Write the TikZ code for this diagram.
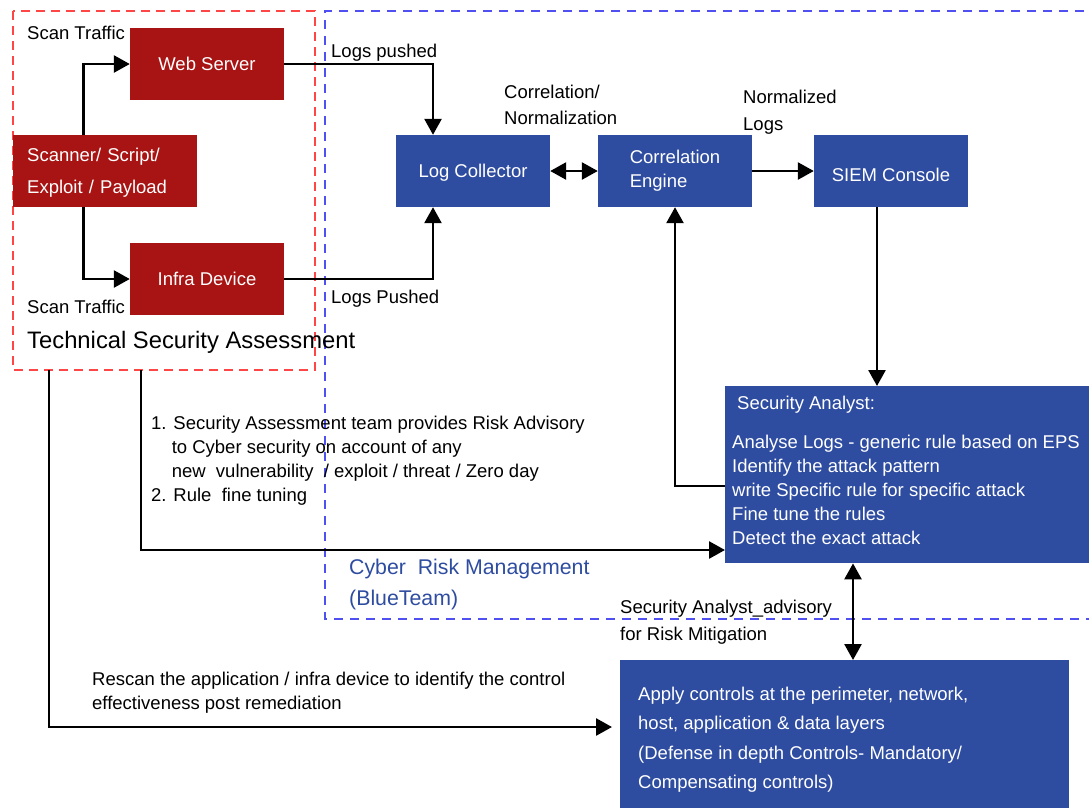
\documentclass[tikz,border=0pt]{standalone}
\usepackage{fontspec}
\setmainfont{Liberation Sans}
\usetikzlibrary{arrows.meta,calc}
\definecolor{boxred}{RGB}{168,19,19}
\definecolor{boxblue}{RGB}{46,76,160}
\definecolor{dashred}{RGB}{255,70,70}
\definecolor{dashblue}{RGB}{80,80,240}
\newcommand\myfs{\fontsize{18.5}{24}\selectfont}
\begin{document}
\begin{tikzpicture}[x=1pt,y=-1pt,
  redn/.style={fill=boxred,text=white,inner sep=0,font=\myfs,minimum width=154,minimum height=72},
  bluen/.style={fill=boxblue,text=white,inner sep=0,font=\myfs,minimum width=154,minimum height=72},
  oneline/.style={text height=13.3,text depth=0},
  lbl/.style={anchor=west,inner sep=0,font=\myfs,align=left},
  wlbl/.style={lbl,text=white},
  arr/.style={line width=2.6pt,-{Triangle[length=16pt,width=17pt]}},
  arrtwo/.style={line width=2.6pt,{Triangle[length=16pt,width=17pt]}-{Triangle[length=16pt,width=17pt]}},
  reddash/.style={draw=dashred,line width=1.3,dash pattern=on 9 off 6},
  bluedash/.style={draw=dashblue,line width=1.3,dash pattern=on 9 off 7}]
\useasboundingbox (0,0) rectangle (1089,807);
% group frames
\draw[bluedash] (1100,11) -- (325,11) -- (325,619) -- (1100,619);
\draw[reddash] (13,11) rectangle (315,370);
\coordinate (s1) at (49,370);
\coordinate (s2) at (141,370);
\coordinate (rescanend) at (612,727);
% nodes
\node[redn,oneline] (web) at (207,64) {Web Server};
\node[redn,anchor=north west,minimum width=184,text width=156,inner xsep=14,
      font=\fontsize{18.5}{32}\selectfont] (scan) at (13,135)
      {\begin{tabular}{@{}l@{}}Scanner/ Script/\\Exploit / Payload\end{tabular}};
\node[redn,oneline] (infra) at (207,279) {Infra Device};
\node[bluen,oneline] (lc) at (473,171) {Log Collector};
\node[bluen] (ce) at (675,171) {\raisebox{-2pt}{\begin{tabular}{@{}l@{}}Correlation\\Engine\end{tabular}}};
\node[bluen,oneline] (siem) at (891,171) {\raisebox{-4pt}{SIEM Console}};
\node[bluen,anchor=north west,minimum width=380,minimum height=177] (sa) at (725,386) {};
\node[bluen,anchor=north west,minimum width=449,minimum height=160] (ctrl) at (620,660) {};
% texts in boxes
\node[wlbl] (sat) at (737,405) {Security Analyst:};
\node[wlbl,anchor=north west] (sal) at (732,435) {Analyse Logs - generic rule based on EPS\\Identify the attack pattern\\write Specific rule for specific attack\\Fine tune the rules\\Detect the exact attack};
\node[wlbl,anchor=north west,font=\fontsize{18.5}{29.3}\selectfont] (ctrlt) at (638,687) {Apply controls at the perimeter, network,\\host, application \& data layers\\(Defense in depth Controls- Mandatory/\\Compensating controls)};
% labels
\node[lbl] (st1) at (27,33) {Scan Traffic};
\node[lbl] (st2) at (27,307) {Scan Traffic};
\node[lbl,font=\fontsize{23.8}{28}\selectfont] (tsa) at (27,342) {Technical Security Assessment};
\node[lbl] (lp1) at (331,53) {Logs pushed};
\node[lbl] (lp2) at (331,299) {Logs Pushed};
\node[lbl,font=\fontsize{18.5}{26}\selectfont] (cn) at (504,105) {Correlation/\\Normalization};
\node[lbl,font=\fontsize{18.5}{27}\selectfont] (nl) at (743,112.5) {Normalized\\Logs};
\node[lbl] (adv) at (151,461) {1. Security Assessment team provides Risk Advisory\\\hphantom{1.}\ to Cyber security on account of any\\\hphantom{1.}\ new\ \ vulnerability\ \ / exploit / threat / Zero day\\2. Rule\ \ fine tuning};
\node[lbl,text=boxblue,font=\fontsize{21.3}{31}\selectfont] (crm) at (349,584.5) {Cyber\ \ Risk Management\\(BlueTeam)};
\node[lbl,font=\fontsize{18.5}{27}\selectfont] (sad) at (620,622.5) {Security Analyst\_advisory\\for Risk Mitigation};
\node[lbl] (rs) at (92,693) {Rescan the application / infra device to identify the control\\effectiveness post remediation};
% connectors
\draw[arr] ([xshift=-22]scan.north) |- (web.west);
\draw[arr] ([xshift=-22]scan.south) |- (infra.west);
\draw[arr] (web.east) -| ([xshift=-40]lc.north);
\draw[arr] (infra.east) -| ([xshift=-40]lc.south);
\draw[arrtwo] (lc.east) -- (ce.west);
\draw[arr] (ce.east) -- (siem.west);
\draw[arr] ([xshift=-14]siem.south) -- ([xshift=-14]siem.south |- sa.north);
\draw[arr] ($(sa.north west)+(0,100)$) -| (ce.south);
\draw[arr] (s2) |- ($(sa.north west)+(0,164)$);
\draw[arr] (s1) |- (rescanend);
\draw[arrtwo] ($(sa.south west)+(128,0)$) coordinate (t) -- (t |- ctrl.north);
\end{tikzpicture}
\end{document}
